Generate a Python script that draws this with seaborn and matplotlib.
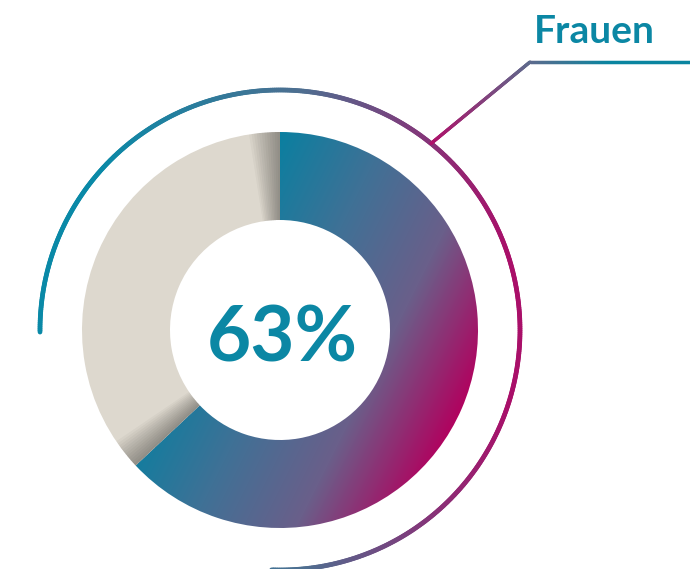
import numpy as np
import pandas as pd
import seaborn as sns
import matplotlib.pyplot as plt
from matplotlib.patches import Wedge
from matplotlib.collections import LineCollection
from matplotlib.colors import LinearSegmentedColormap

# data
labels = ['Frauen', 'Männer']
shares = [63, 37]
value_label = '63%'
series_label = 'Frauen'

teal = '#0b87a4'
beige = '#ddd8ce'

sns.set_theme(style='white')
plt.rcParams['font.family'] = ['Lato', 'DejaVu Sans']

df = pd.DataFrame({'label': labels, 'share': shares})
df['angle'] = df['share'] / df['share'].sum() * 360

W, H = 690, 569
fig = plt.figure(figsize=(W / 100, H / 100), dpi=100)
ax = fig.add_axes([0, 0, 1, 1])
ax.set_xlim(0, W)
ax.set_ylim(0, H)
ax.set_aspect('equal')
ax.axis('off')

cx, cy = 280, H - 330
r_out, r_in = 198, 110
r_arc = 240

# donut: first slice clockwise from 12 o'clock, gradient filled
start = 90
end = start - df['angle'][0]
donut_cmap = sns.blend_palette(['#0b7fa0', '#3f7196', '#6a5f8a', '#b0035f'], as_cmap=True)
xx, yy = np.meshgrid(np.arange(W), np.arange(H))
t = np.clip((xx + 0.5 * yy - 347) / 318, 0, 1)
w_main = Wedge((cx, cy), r_out, end, start, width=r_out - r_in, facecolor='none', edgecolor='none')
ax.add_patch(w_main)
im = ax.imshow(t, cmap=donut_cmap, extent=(0, W, 0, H), origin='upper', zorder=1)
im.set_clip_path(w_main)

# second slice, beige with soft shadow at the edges
ax.add_patch(Wedge((cx, cy), r_out, start, end + 360, width=r_out - r_in,
                   facecolor=beige, edgecolor='none', zorder=1))
for k in range(1, 13):
    a = 0.03
    ax.add_patch(Wedge((cx, cy), r_out, start, start + k * 0.75, width=r_out - r_in,
                       facecolor='black', alpha=a, edgecolor='none', zorder=2))
    ax.add_patch(Wedge((cx, cy), r_out, end + 360 - k * 0.75, end + 360, width=r_out - r_in,
                       facecolor='black', alpha=a, edgecolor='none', zorder=2))

# outer arc, colour running left to right
arc_cmap = sns.blend_palette(['#0a89a7', '#4f6e90', '#a90f69'], as_cmap=True)
ang = np.radians(np.linspace(180.5, -92, 600))
px = cx + r_arc * np.cos(ang)
py = cy + r_arc * np.sin(ang)
pts = np.column_stack([px, py]).reshape(-1, 1, 2)
segs = np.concatenate([pts[:-1], pts[1:]], axis=1)
arc_t = np.clip((px[:-1] - 100) / 410, 0, 1)
ax.add_collection(LineCollection(segs, colors=arc_cmap(arc_t), linewidths=3.4,
                                 capstyle='round', zorder=3))

# leader line to the label
a0 = np.radians(51)
p0 = (cx + r_arc * np.cos(a0), cy + r_arc * np.sin(a0))
p1 = (530, H - 62)
p2 = (W + 2, H - 62)
lead_cmap = LinearSegmentedColormap.from_list(
    'lead', [(0, '#b0106a'), (0.44, '#5e6a8c'), (0.72, '#0a85a0'), (1, '#0a85a0')])
n1, n2 = 150, 190
lx = np.concatenate([np.linspace(p0[0], p1[0], n1), np.linspace(p1[0], p2[0], n2)[1:]])
ly = np.concatenate([np.linspace(p0[1], p1[1], n1), np.linspace(p1[1], p2[1], n2)[1:]])
lpts = np.column_stack([lx, ly]).reshape(-1, 1, 2)
lsegs = np.concatenate([lpts[:-1], lpts[1:]], axis=1)
lt = np.linspace(0, 1, len(lsegs))
ax.add_collection(LineCollection(lsegs, colors=lead_cmap(lt), linewidths=2.4,
                                 capstyle='round', zorder=3))

ax.text(cx + 2, H - 362, value_label, ha='center', va='baseline',
        fontsize=55, fontweight='bold', color=teal, zorder=4)
ax.text(594, H - 43, series_label, ha='center', va='baseline',
        fontsize=28, fontweight='bold', color=teal, zorder=4)

plt.savefig('out.png', dpi=100)
